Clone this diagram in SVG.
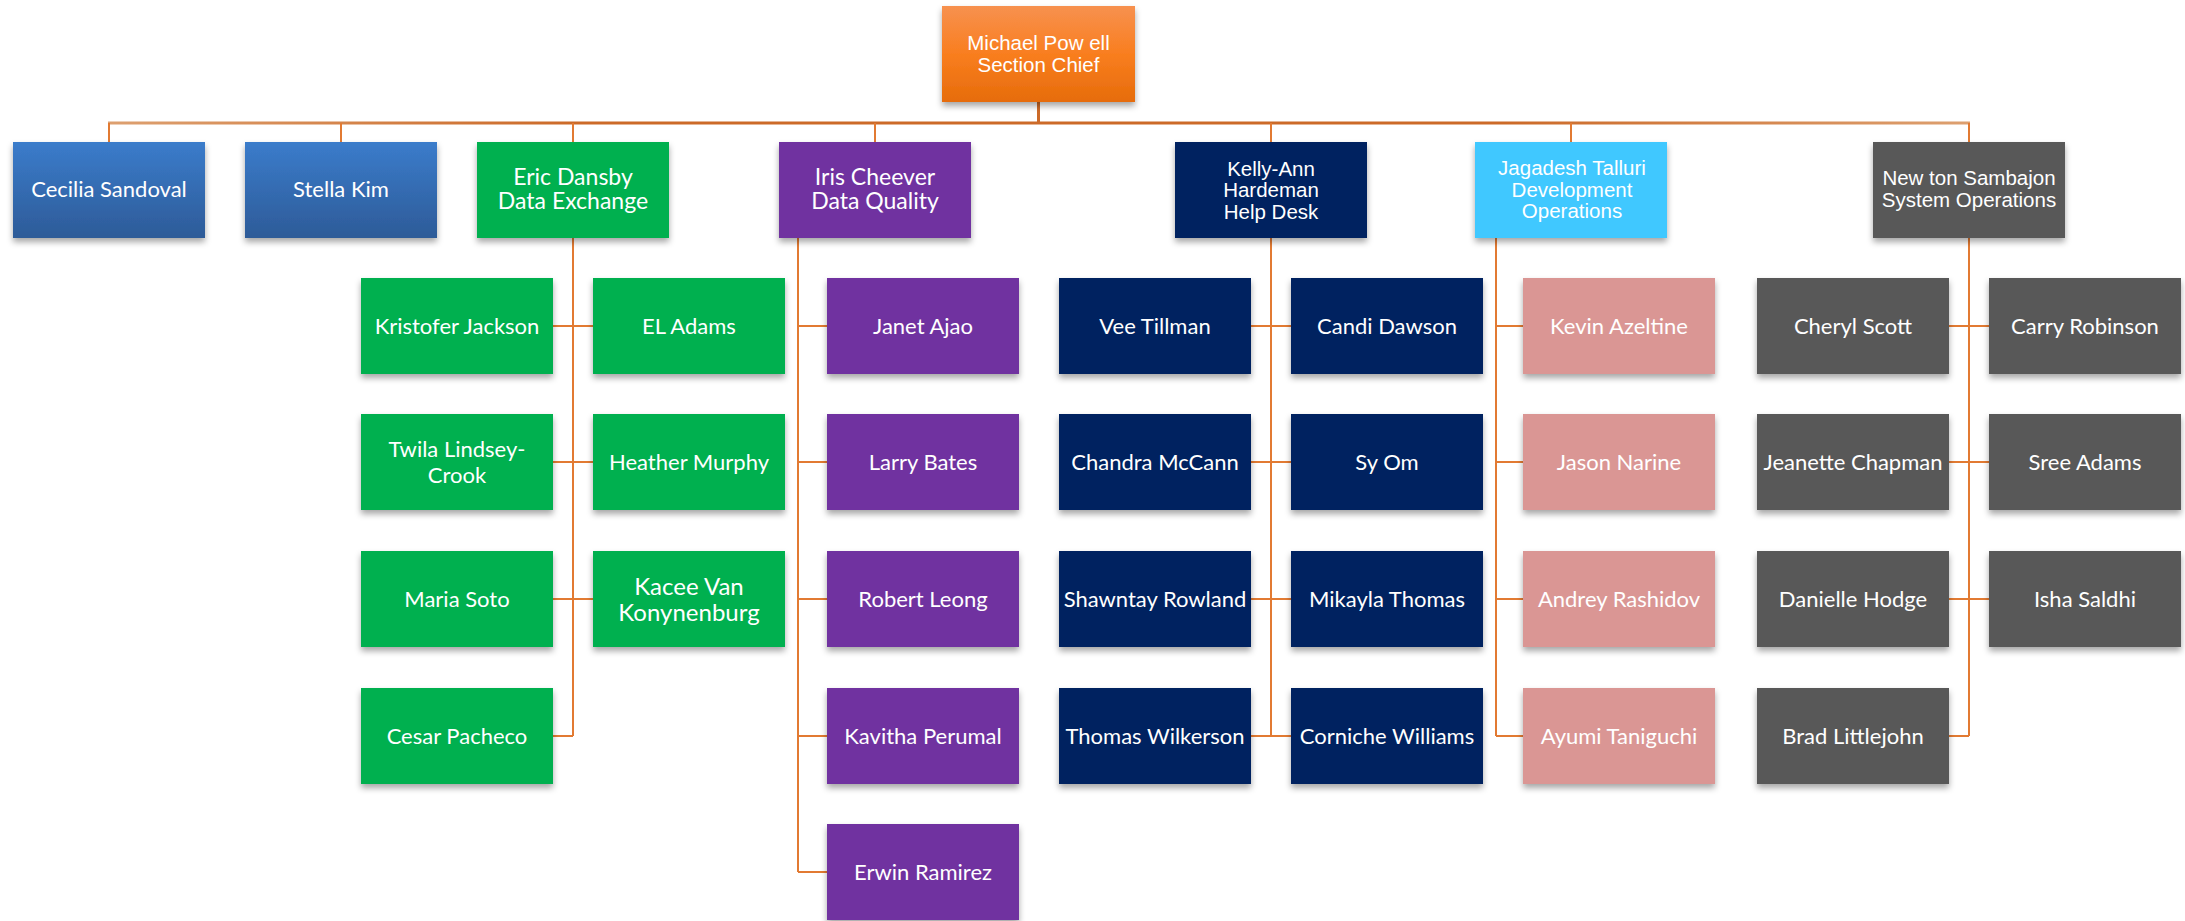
<svg xmlns="http://www.w3.org/2000/svg" width="2185" height="921" viewBox="0 0 2185 921">
<defs>
<linearGradient id="gOrange" x1="0" y1="0" x2="0" y2="1">
<stop offset="0" stop-color="#F7914F"/>
<stop offset="0.5" stop-color="#F97E1F"/>
<stop offset="1" stop-color="#E66C0B"/>
</linearGradient>
<linearGradient id="gBlue" x1="0" y1="0" x2="0" y2="1">
<stop offset="0" stop-color="#3B7CCB"/>
<stop offset="1" stop-color="#2D5B98"/>
</linearGradient>
<linearGradient id="gLine" gradientUnits="userSpaceOnUse" x1="108" y1="0" x2="1970" y2="0">
<stop offset="0" stop-color="#DDA070"/>
<stop offset="0.25" stop-color="#CC6A28"/>
<stop offset="0.75" stop-color="#CC6A28"/>
<stop offset="1" stop-color="#DDA070"/>
</linearGradient>
<filter id="sh" x="-10%" y="-10%" width="120%" height="130%">
<feDropShadow dx="0" dy="4" stdDeviation="3" flood-color="#000" flood-opacity="0.35"/>
</filter>
<style>
.box{filter:url(#sh)}
.org{fill:url(#gOrange)}
.blu{fill:url(#gBlue)}
.grn{fill:#00B050}
.pur{fill:#7030A0}
.nav{fill:#002060}
.sky{fill:#40C8FF}
.pnk{fill:#DA9694}
.gry{fill:#595959}
.ta{font-family:"Liberation Sans",Arial,sans-serif;font-size:20.5px;fill:#fff;text-anchor:middle}
.tc{font-family:Lato,"Open Sans",sans-serif;font-size:22px;fill:#fff;text-anchor:middle}
.tm{font-family:Lato,"Open Sans",sans-serif;font-size:23px;fill:#fff;text-anchor:middle}
.cn{fill:none;stroke:#E27A32;stroke-width:2}
.cm{fill:none;stroke:url(#gLine);stroke-width:3}
.cv{fill:none;stroke:#CC6A28;stroke-width:3}
</style>
</defs>

<g id="connectors">
<path class="cv" d="M1038.5,102 V123"/>
<path class="cm" d="M108,123 H1970"/>
<path class="cn" d="M109,123 V142 M341,123 V142 M573,123 V142 M875,123 V142 M1271,123 V142 M1571,123 V142 M1969,123 V142"/>
<path class="cn" d="M573,238 V736 M553,326 H593 M553,462 H593 M553,599 H593 M553,736 H573"/>
<path class="cn" d="M798,238 V872 M798,326 H827 M798,462 H827 M798,599 H827 M798,736 H827 M798,872 H827"/>
<path class="cn" d="M1271,238 V736 M1251,326 H1291 M1251,462 H1291 M1251,599 H1291 M1251,736 H1291"/>
<path class="cn" d="M1496,238 V736 M1496,326 H1523 M1496,462 H1523 M1496,599 H1523 M1496,736 H1523"/>
<path class="cn" d="M1969,238 V736 M1949,326 H1989 M1949,462 H1989 M1949,599 H1989 M1949,736 H1969"/>
</g>

<g id="michael-powell"><rect class="box org" x="942" y="6" width="193" height="96"/><text class="ta" x="1038.5" y="50">Michael Pow ell</text><text class="ta" x="1038.5" y="71.5">Section Chief</text></g>

<g id="cecilia-sandoval"><rect class="box blu" x="13" y="142" width="192" height="96"/><text class="tc" x="109" y="197">Cecilia Sandoval</text></g>
<g id="stella-kim"><rect class="box blu" x="245" y="142" width="192" height="96"/><text class="tc" x="341" y="197">Stella Kim</text></g>
<g id="eric-dansby"><rect class="box grn" x="477" y="142" width="192" height="96"/><text class="tm" x="573" y="185">Eric Dansby</text><text class="tm" x="573" y="209">Data Exchange</text></g>
<g id="iris-cheever"><rect class="box pur" x="779" y="142" width="192" height="96"/><text class="tm" x="875" y="185">Iris Cheever</text><text class="tm" x="875" y="209">Data Quality</text></g>
<g id="kelly-ann-hardeman"><rect class="box nav" x="1175" y="142" width="192" height="96"/><text class="ta" x="1271" y="175.5">Kelly-Ann</text><text class="ta" x="1271" y="197">Hardeman</text><text class="ta" x="1271" y="218.5">Help Desk</text></g>
<g id="jagadesh-talluri"><rect class="box sky" x="1475" y="142" width="192" height="96"/><text class="ta" x="1572" y="175">Jagadesh Talluri</text><text class="ta" x="1572" y="196.5">Development</text><text class="ta" x="1572" y="218">Operations</text></g>
<g id="newton-sambajon"><rect class="box gry" x="1873" y="142" width="192" height="96"/><text class="ta" x="1969" y="185">New ton Sambajon</text><text class="ta" x="1969" y="206.5">System Operations</text></g>

<g id="kristofer-jackson"><rect class="box grn" x="361" y="278" width="192" height="96"/><text class="tc" x="457" y="334">Kristofer Jackson</text></g>
<g id="twila-lindsey-crook"><rect class="box grn" x="361" y="414" width="192" height="96"/><text class="tc" x="457" y="457">Twila Lindsey-</text><text class="tc" x="457" y="483">Crook</text></g>
<g id="maria-soto"><rect class="box grn" x="361" y="551" width="192" height="96"/><text class="tc" x="457" y="607">Maria Soto</text></g>
<g id="cesar-pacheco"><rect class="box grn" x="361" y="688" width="192" height="96"/><text class="tc" x="457" y="744">Cesar Pacheco</text></g>
<g id="el-adams"><rect class="box grn" x="593" y="278" width="192" height="96"/><text class="tc" x="689" y="334">EL Adams</text></g>
<g id="heather-murphy"><rect class="box grn" x="593" y="414" width="192" height="96"/><text class="tc" x="689" y="470">Heather Murphy</text></g>
<g id="kacee-van-konynenburg"><rect class="box grn" x="593" y="551" width="192" height="96"/><text class="tm" x="689" y="595" style="font-size:24px">Kacee Van</text><text class="tm" x="689" y="621" style="font-size:24px">Konynenburg</text></g>

<g id="janet-ajao"><rect class="box pur" x="827" y="278" width="192" height="96"/><text class="tc" x="923" y="334">Janet Ajao</text></g>
<g id="larry-bates"><rect class="box pur" x="827" y="414" width="192" height="96"/><text class="tc" x="923" y="470">Larry Bates</text></g>
<g id="robert-leong"><rect class="box pur" x="827" y="551" width="192" height="96"/><text class="tc" x="923" y="607">Robert Leong</text></g>
<g id="kavitha-perumal"><rect class="box pur" x="827" y="688" width="192" height="96"/><text class="tc" x="923" y="744">Kavitha Perumal</text></g>
<g id="erwin-ramirez"><rect class="box pur" x="827" y="824" width="192" height="96"/><text class="tc" x="923" y="880">Erwin Ramirez</text></g>

<g id="vee-tillman"><rect class="box nav" x="1059" y="278" width="192" height="96"/><text class="tc" x="1155" y="334">Vee Tillman</text></g>
<g id="chandra-mccann"><rect class="box nav" x="1059" y="414" width="192" height="96"/><text class="tc" x="1155" y="470">Chandra McCann</text></g>
<g id="shawntay-rowland"><rect class="box nav" x="1059" y="551" width="192" height="96"/><text class="tc" x="1155" y="607">Shawntay Rowland</text></g>
<g id="thomas-wilkerson"><rect class="box nav" x="1059" y="688" width="192" height="96"/><text class="tc" x="1155" y="744">Thomas Wilkerson</text></g>
<g id="candi-dawson"><rect class="box nav" x="1291" y="278" width="192" height="96"/><text class="tc" x="1387" y="334">Candi Dawson</text></g>
<g id="sy-om"><rect class="box nav" x="1291" y="414" width="192" height="96"/><text class="tc" x="1387" y="470">Sy Om</text></g>
<g id="mikayla-thomas"><rect class="box nav" x="1291" y="551" width="192" height="96"/><text class="tc" x="1387" y="607">Mikayla Thomas</text></g>
<g id="corniche-williams"><rect class="box nav" x="1291" y="688" width="192" height="96"/><text class="tc" x="1387" y="744">Corniche Williams</text></g>

<g id="kevin-azeltine"><rect class="box pnk" x="1523" y="278" width="192" height="96"/><text class="tc" x="1619" y="334">Kevin Azeltine</text></g>
<g id="jason-narine"><rect class="box pnk" x="1523" y="414" width="192" height="96"/><text class="tc" x="1619" y="470">Jason Narine</text></g>
<g id="andrey-rashidov"><rect class="box pnk" x="1523" y="551" width="192" height="96"/><text class="tc" x="1619" y="607">Andrey Rashidov</text></g>
<g id="ayumi-taniguchi"><rect class="box pnk" x="1523" y="688" width="192" height="96"/><text class="tc" x="1619" y="744">Ayumi Taniguchi</text></g>

<g id="cheryl-scott"><rect class="box gry" x="1757" y="278" width="192" height="96"/><text class="tc" x="1853" y="334">Cheryl Scott</text></g>
<g id="jeanette-chapman"><rect class="box gry" x="1757" y="414" width="192" height="96"/><text class="tc" x="1853" y="470">Jeanette Chapman</text></g>
<g id="danielle-hodge"><rect class="box gry" x="1757" y="551" width="192" height="96"/><text class="tc" x="1853" y="607">Danielle Hodge</text></g>
<g id="brad-littlejohn"><rect class="box gry" x="1757" y="688" width="192" height="96"/><text class="tc" x="1853" y="744">Brad Littlejohn</text></g>
<g id="carry-robinson"><rect class="box gry" x="1989" y="278" width="192" height="96"/><text class="tc" x="2085" y="334">Carry Robinson</text></g>
<g id="sree-adams"><rect class="box gry" x="1989" y="414" width="192" height="96"/><text class="tc" x="2085" y="470">Sree Adams</text></g>
<g id="isha-saldhi"><rect class="box gry" x="1989" y="551" width="192" height="96"/><text class="tc" x="2085" y="607">Isha Saldhi</text></g>
</svg>
